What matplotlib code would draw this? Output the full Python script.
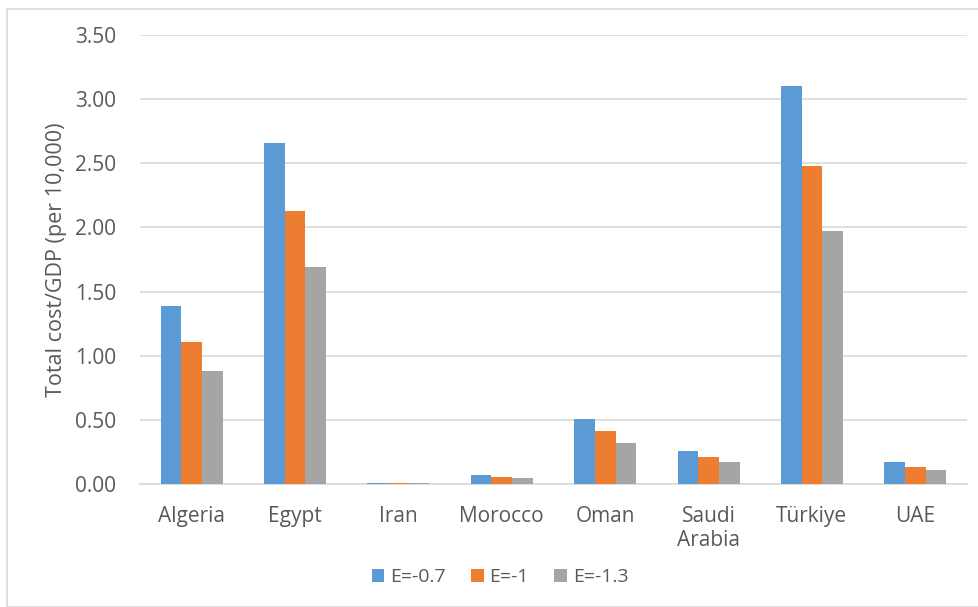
import numpy as np
import matplotlib.pyplot as plt
from matplotlib.patches import Rectangle

# Total cost/GDP by country for three elasticity values
countries = ['Algeria', 'Egypt', 'Iran', 'Morocco', 'Oman', 'Saudi\nArabia', 'Türkiye', 'UAE']
e_07 = [1.39, 2.66, 0.01, 0.07, 0.51, 0.26, 3.10, 0.17]
e_10 = [1.11, 2.13, 0.01, 0.055, 0.41, 0.21, 2.48, 0.135]
e_13 = [0.88, 1.69, 0.005, 0.045, 0.32, 0.17, 1.97, 0.11]
series_labels = ['E=-0.7', 'E=-1', 'E=-1.3']
yticks = [0.0, 0.5, 1.0, 1.5, 2.0, 2.5, 3.0, 3.5]

plt.rcParams['font.family'] = ['Open Sans', 'DejaVu Sans']
grey_txt = '#595959'
colors = ['#5b9bd5', '#ed7d31', '#a5a5a5']

fig = plt.figure(figsize=(9.79, 6.07), dpi=100)
ax = fig.add_axes([140 / 979, 1 - 484 / 607, (967 - 140) / 979, (484 - 35) / 607])

x = np.arange(len(countries))
w = 0.2
for i, (vals, lab) in enumerate(zip([e_07, e_10, e_13], series_labels)):
    ax.bar(x + (i - 1) * w, vals, w, color=colors[i], label=lab, zorder=3)

ax.set_xlim(-0.5, len(countries) - 0.5)
ax.set_ylim(0, 3.5)
ax.set_yticks(yticks)
ax.set_yticklabels([f'{t:.2f}' for t in yticks])
ax.set_xticks(x)
ax.set_xticklabels(countries, linespacing=1.15)
ax.tick_params(axis='both', length=0, colors=grey_txt, labelsize=15)
ax.tick_params(axis='y', pad=17)
ax.tick_params(axis='x', pad=16)
ax.grid(axis='y', color='#d9d9d9', linewidth=1.2, zorder=0)
for s in ['top', 'right', 'left']:
    ax.spines[s].set_visible(False)
ax.spines['bottom'].set_color('#d9d9d9')
ax.spines['bottom'].set_linewidth(1.2)
ax.set_ylabel('Total cost/GDP (per 10,000)', color=grey_txt, fontsize=15.5, labelpad=6)

fig.legend(loc='center', bbox_to_anchor=(500 / 979, 1 - 577 / 607), ncol=3, frameon=False,
           fontsize=14, handlelength=0.65, handleheight=0.65, handletextpad=0.3,
           columnspacing=1.3, labelcolor=grey_txt)

fig.patches.append(Rectangle((7 / 979, 0), 1, 1 - 9 / 607, transform=fig.transFigure,
                             fill=False, edgecolor='#d9d9d9', linewidth=1.2))

fig.savefig('out.png', dpi=100)
